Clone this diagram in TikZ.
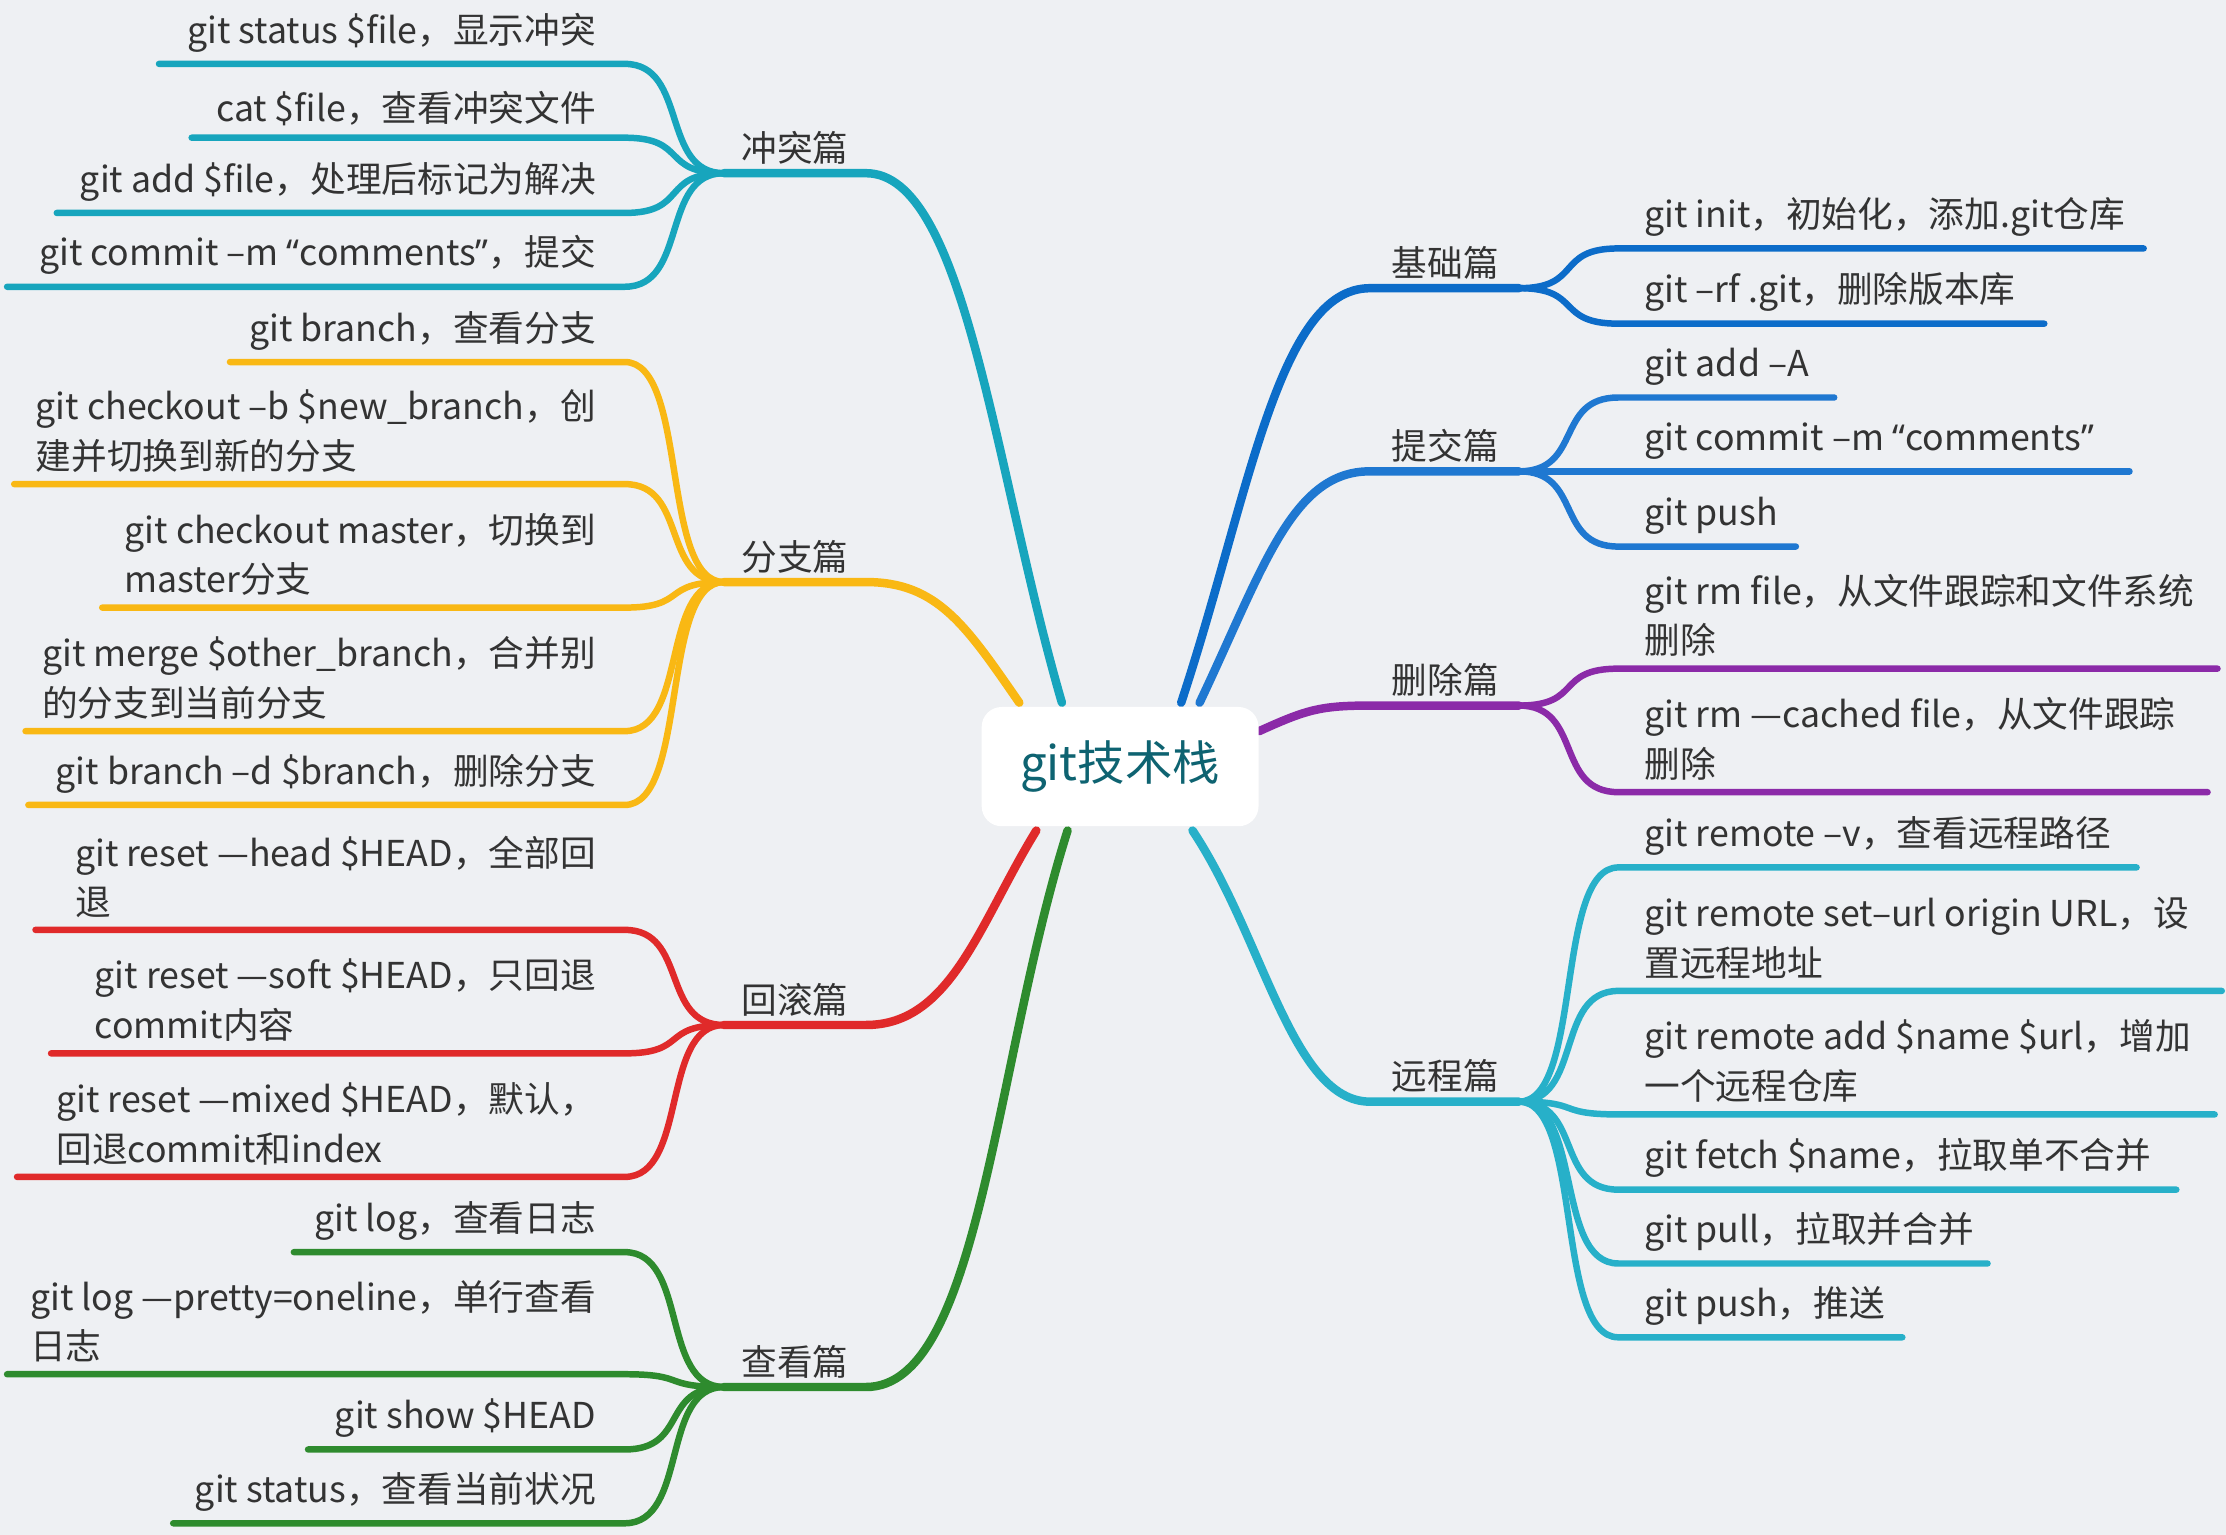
\documentclass[tikz,border=0pt]{standalone}
\usepackage{fontspec}
\setmainfont{Noto Sans CJK SC}
\newfontfamily\latq{Noto Sans}
\newcommand\qo{{\latq “}}
\newcommand\qc{{\latq ”}}
\definecolor{bg}{HTML}{EEF0F3}
\definecolor{cT}{HTML}{17A5BD}
\definecolor{cY}{HTML}{F9B814}
\definecolor{cR}{HTML}{E02A2A}
\definecolor{cG}{HTML}{2E8B2E}
\definecolor{cB}{HTML}{0C6CC9}
\definecolor{cB2}{HTML}{1F78D1}
\definecolor{cP}{HTML}{8B2AA8}
\definecolor{cC}{HTML}{27B0C9}
\definecolor{tx}{HTML}{333333}
\tikzset{x=0.02cm,y=-0.02cm,
 br/.style={line width=2.6pt,line cap=round},
 trunk/.style={line width=3.4pt,line cap=round},
 lt/.style={font=\fontsize{14.3}{19.9}\selectfont,text=tx,inner sep=0pt,align=left},
 cat/.style={font=\fontsize{14.3}{19.9}\selectfont,text=tx,inner sep=0pt}}
\newcommand\LL[5]{%
 \node[lt,anchor=south east] (L#2) at (420,#2-8) {#4};
 \coordinate (le#2) at (440,#2);
 \draw[br,#1] (510,#5) .. controls (465,#5) and (485,#2) .. (le#2) -- (#3,#2);}
\newcommand\RL[5]{%
 \node[lt,anchor=south west] (R#2) at (1158,#2-8) {#4};
 \coordinate (re#2) at (1140,#2);
 \draw[br,#1] (1070,#5) .. controls (1115,#5) and (1095,#2) .. (re#2) -- (#3,#2);}
\begin{document}
\begin{tikzpicture}
\fill[bg] (0,0) rectangle (1568,1081);
\useasboundingbox (0,0) rectangle (1568,1081);
% trunks
\draw[trunk,cT] (748,495) .. controls (700,330) and (680,122) .. (610,122) -- (510,122);
\draw[trunk,cY] (718,495) .. controls (680,440) and (660,410) .. (610,410) -- (510,410);
\draw[trunk,cR] (730,585) .. controls (690,650) and (670,722) .. (610,722) -- (510,722);
\draw[trunk,cG] (752,585) .. controls (700,750) and (690,977) .. (610,977) -- (510,977);
\draw[trunk,cB] (832,495) .. controls (880,350) and (900,203) .. (965,203) -- (1070,203);
\draw[trunk,cB2] (845,495) .. controls (890,400) and (910,332) .. (965,332) -- (1070,332);
\draw[trunk,cP] (887,515) .. controls (920,500) and (930,497) .. (965,497) -- (1070,497);
\draw[trunk,cC] (840,585) .. controls (890,660) and (910,776) .. (965,776) -- (1070,776);
\node[fill=white,rounded corners=8pt,minimum width=195*0.02cm,minimum height=84*0.02cm,
 font=\fontsize{19}{23}\selectfont,text=cT!60!black] (c) at (789,540) {git技术栈};
% categories
\node[cat,anchor=south] (k1) at (560,116) {冲突篇};
\node[cat,anchor=south] (k2) at (560,404) {分支篇};
\node[cat,anchor=south] (k3) at (560,716) {回滚篇};
\node[cat,anchor=south] (k4) at (560,971) {查看篇};
\node[cat,anchor=south] (k5) at (1018,197) {基础篇};
\node[cat,anchor=south] (k6) at (1018,326) {提交篇};
\node[cat,anchor=south] (k7) at (1018,491) {删除篇};
\node[cat,anchor=south] (k8) at (1018,770) {远程篇};
% left leaves
\LL{cT}{45}{112}{git status \$file，显示冲突}{122}
\LL{cT}{97}{135}{cat \$file，查看冲突文件}{122}
\LL{cT}{150}{40}{git add \$file，处理后标记为解决}{122}
\LL{cT}{202}{5}{git commit –m \qo comments\qc，提交}{122}
\LL{cY}{255}{162}{git branch，查看分支}{410}
\LL{cY}{341}{10}{git checkout –b \$new\_branch，创\\建并切换到新的分支}{410}
\LL{cY}{428}{72}{git checkout master，切换到\\master分支}{410}
\LL{cY}{515}{18}{git merge \$other\_branch，合并别\\的分支到当前分支}{410}
\LL{cY}{567}{20}{git branch –d \$branch，删除分支}{410}
\LL{cR}{655}{25}{git reset —head \$HEAD，全部回\\退}{722}
\LL{cR}{742}{36}{git reset —soft \$HEAD，只回退\\commit内容}{722}
\LL{cR}{829}{12}{git reset —mixed \$HEAD，默认，\\回退commit和index}{722}
\LL{cG}{882}{207}{git log，查看日志}{977}
\LL{cG}{968}{5}{git log —pretty=oneline，单行查看\\日志}{977}
\LL{cG}{1021}{217}{git show \$HEAD}{977}
\LL{cG}{1073}{122}{git status，查看当前状况}{977}
% right leaves
\RL{cB}{175}{1510}{git init，初始化，添加.git仓库}{203}
\RL{cB}{228}{1440}{git –rf .git，删除版本库}{203}
\RL{cB2}{280}{1292}{git add –A}{332}
\RL{cB2}{332}{1500}{git commit –m \qo comments\qc}{332}
\RL{cB2}{385}{1265}{git push}{332}
\RL{cP}{471}{1562}{git rm file，从文件跟踪和文件系统\\删除}{497}
\RL{cP}{558}{1555}{git rm —cached file，从文件跟踪\\删除}{497}
\RL{cC}{611}{1505}{git remote –v，查看远程路径}{776}
\RL{cC}{698}{1565}{git remote set–url origin URL，设\\置远程地址}{776}
\RL{cC}{785}{1560}{git remote add \$name \$url，增加\\一个远程仓库}{776}
\RL{cC}{838}{1533}{git fetch \$name，拉取单不合并}{776}
\RL{cC}{890}{1400}{git pull，拉取并合并}{776}
\RL{cC}{942}{1340}{git push，推送}{776}
\end{tikzpicture}
\end{document}
